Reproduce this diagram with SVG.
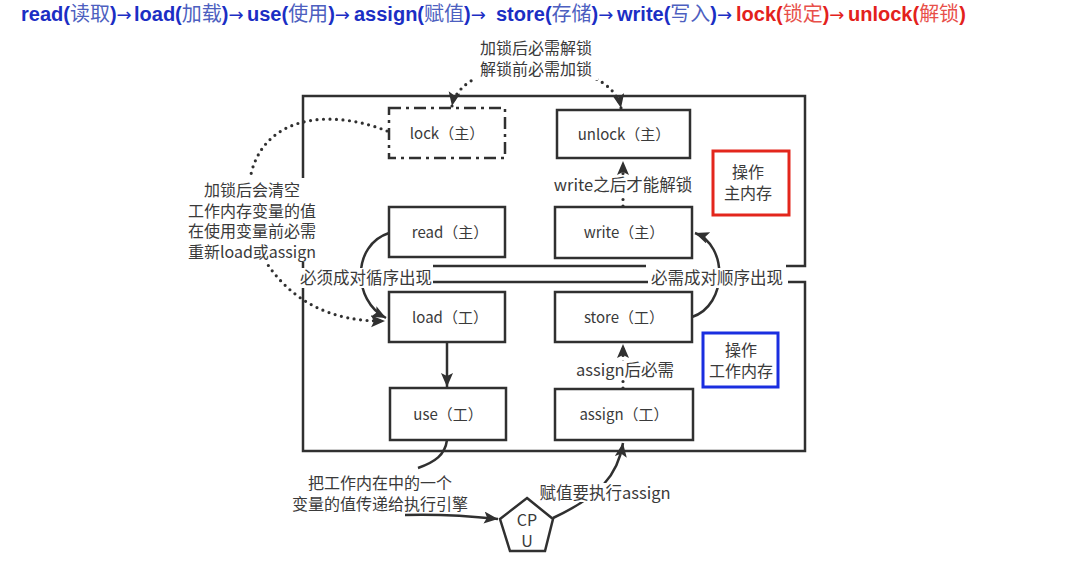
<svg xmlns="http://www.w3.org/2000/svg" width="1071" height="573" viewBox="0 0 1071 573">
<style>
.hdr{font-family:"Liberation Sans",Arial,sans-serif;font-size:20px;font-weight:bold}
.b{fill:#1b2ec4}
.bz{fill:#4d5fc0;font-family:"Noto Sans CJK SC",sans-serif;font-weight:normal;font-size:20px}
.r{fill:#e3211c}
.rz{fill:#e8504a;font-family:"Noto Sans CJK SC",sans-serif;font-weight:normal;font-size:20px}
.ar{font-family:"DejaVu Sans",sans-serif;font-weight:normal;font-size:18px}
.box{fill:#fff;stroke:#303030;stroke-width:2.5}
.frame{fill:none;stroke:#303030;stroke-width:2.5}
.nt{font-family:"Noto Sans CJK SC","Noto Sans",sans-serif;font-size:15px;fill:#3a3a3a;text-anchor:middle}
.lb{font-family:"Noto Sans CJK SC","Noto Sans",sans-serif;font-size:16.5px;fill:#3a3a3a;text-anchor:middle}
.ml{font-family:"Noto Sans CJK SC","Noto Sans",sans-serif;font-size:16px;fill:#3a3a3a;text-anchor:middle}
.solid{fill:none;stroke:#303030;stroke-width:2.5}
.dot{fill:none;stroke:#303030;stroke-width:3.2;stroke-dasharray:0 6.5;stroke-linecap:round}
.bg{fill:#fff}
</style>
<defs>
<marker id="ah" markerUnits="userSpaceOnUse" markerWidth="16" markerHeight="14" refX="14" refY="6" orient="auto-start-reverse">
<path d="M0,0 L14,6 L0,12 L3,6 z" fill="#303030"/>
</marker>
</defs>
<rect width="1071" height="573" fill="#fff"/>

<text class="hdr" y="21">
<tspan x="21" class="b">read(</tspan><tspan class="bz">读取</tspan><tspan class="b">)</tspan><tspan class="b ar">→</tspan>
<tspan x="134" class="b">load(</tspan><tspan class="bz">加载</tspan><tspan class="b">)</tspan><tspan class="b ar">→</tspan>
<tspan x="247" class="b">use(</tspan><tspan class="bz">使用</tspan><tspan class="b">)</tspan><tspan class="b ar">→</tspan>
<tspan x="354" class="b">assign(</tspan><tspan class="bz">赋值</tspan><tspan class="b">)</tspan><tspan class="b ar">→</tspan>
<tspan x="496" class="b">store(</tspan><tspan class="bz">存储</tspan><tspan class="b">)</tspan><tspan class="b ar">→</tspan>
<tspan x="617" class="b">write(</tspan><tspan class="bz">写入</tspan><tspan class="b">)</tspan><tspan class="b ar">→</tspan>
<tspan x="736" class="r">lock(</tspan><tspan class="rz">锁定</tspan><tspan class="r">)</tspan><tspan class="r ar">→</tspan>
<tspan x="848" class="r">unlock(</tspan><tspan class="rz">解锁</tspan><tspan class="r">)</tspan>
</text>

<g id="frames">
<path class="frame" d="M786 266 H805 V96 H303 V451 H805 V282 H788"/>
<path class="frame" d="M433 266 H646 M432 282 H648"/>
</g>

<g id="connectors">
<path class="dot" d="M452 106 C462 52 610 52 621 108" marker-start="url(#ah)" marker-end="url(#ah)"/>
<path class="dot" d="M387 131 C340 112 270 110 252 170 C242 210 248 240 268 265 C292 300 330 322 385 321" marker-end="url(#ah)"/>
<path class="solid" d="M389 233 C352 245 352 300 386 318" marker-end="url(#ah)"/>
<path class="solid" d="M692 317 C728 305 728 245 695 233" marker-end="url(#ah)"/>
<path class="dot" d="M623 206 L623 161" marker-end="url(#ah)"/>
<path class="dot" d="M623 388 L623 344" marker-end="url(#ah)"/>
<path class="solid" d="M447 342 L447 387" marker-end="url(#ah)"/>
<path class="solid" d="M447 440 C445 455 435 462 418 468"/>
<path class="solid" d="M405 515 C440 514 470 516 498 519" marker-end="url(#ah)"/>
<path class="solid" d="M553 518 C600 496 618 475 623 443" marker-end="url(#ah)"/>
</g>

<g id="labels">
<rect class="bg" x="475" y="38" width="123" height="42"/>
<text class="ml" x="536" y="54">加锁后必需解锁</text>
<text class="ml" x="536" y="75">解锁前必需加锁</text>
<rect class="bg" x="182" y="178" width="140" height="84"/>
<text class="ml" x="252" y="196">加锁后会清空</text>
<text class="ml" x="252" y="216.5">工作内存变量的值</text>
<text class="ml" x="252" y="237">在使用变量前必需</text>
<text class="ml" x="252" y="257.5">重新load或assign</text>
<rect class="bg" x="297" y="268" width="136" height="20"/>
<text class="lb" x="366" y="284">必须成对循序出现</text>
<rect class="bg" x="648" y="268" width="139" height="20"/>
<text class="lb" x="717" y="284">必需成对顺序出现</text>
<rect class="bg" x="551" y="176" width="144" height="19"/>
<text class="lb" x="623" y="191">write之后才能解锁</text>
<rect class="bg" x="572" y="361" width="106" height="19"/>
<text class="lb" x="625" y="376">assign后必需</text>
<rect class="bg" x="536" y="483" width="138" height="19"/>
<text class="lb" x="605" y="499">赋值要执行assign</text>
<text class="ml" x="380" y="489">把工作内在中的一个</text>
<text class="ml" x="380" y="510">变量的值传递给执行引擎</text>
</g>

<g id="node-lock">
<rect x="389" y="108" width="116" height="50" fill="#fff" stroke="#303030" stroke-width="2.5" stroke-dasharray="12 5 3 5"/>
<text class="nt" x="447" y="139">lock（主）</text>
</g>
<g id="node-unlock">
<rect class="box" x="557" y="110" width="133" height="48"/>
<text class="nt" x="624" y="140">unlock（主）</text>
</g>
<g id="node-read">
<rect class="box" x="389" y="207" width="116" height="50"/>
<text class="nt" x="450" y="238">read（主）</text>
</g>
<g id="node-write">
<rect class="box" x="555" y="207" width="137" height="51"/>
<text class="nt" x="624" y="238">write（主）</text>
</g>
<g id="node-load">
<rect class="box" x="389" y="292" width="116" height="50"/>
<text class="nt" x="450" y="323">load（工）</text>
</g>
<g id="node-store">
<rect class="box" x="555" y="292" width="137" height="50"/>
<text class="nt" x="624" y="323">store（工）</text>
</g>
<g id="node-use">
<rect class="box" x="390" y="388" width="116" height="52"/>
<text class="nt" x="448" y="420">use（工）</text>
</g>
<g id="node-assign">
<rect class="box" x="555" y="389" width="138" height="51"/>
<text class="nt" x="624" y="420">assign（工）</text>
</g>
<g id="node-main-mem">
<rect x="713" y="151" width="76" height="64" fill="#fff" stroke="#e3261c" stroke-width="3"/>
<text class="ml" x="748" y="178">操作</text>
<text class="ml" x="748" y="199">主内存</text>
</g>
<g id="node-work-mem">
<rect x="703" y="333" width="75" height="54" fill="#fff" stroke="#1a2ee0" stroke-width="3"/>
<text class="ml" x="741" y="356">操作</text>
<text class="ml" x="741" y="376.5">工作内存</text>
</g>
<g id="node-cpu">
<polygon points="527,498 553,519 545,551 510,551 500,519" fill="#fff" stroke="#303030" stroke-width="2.5"/>
<text class="ml" x="527" y="526">CP</text>
<text class="ml" x="527" y="546.5">U</text>
</g>
</svg>
